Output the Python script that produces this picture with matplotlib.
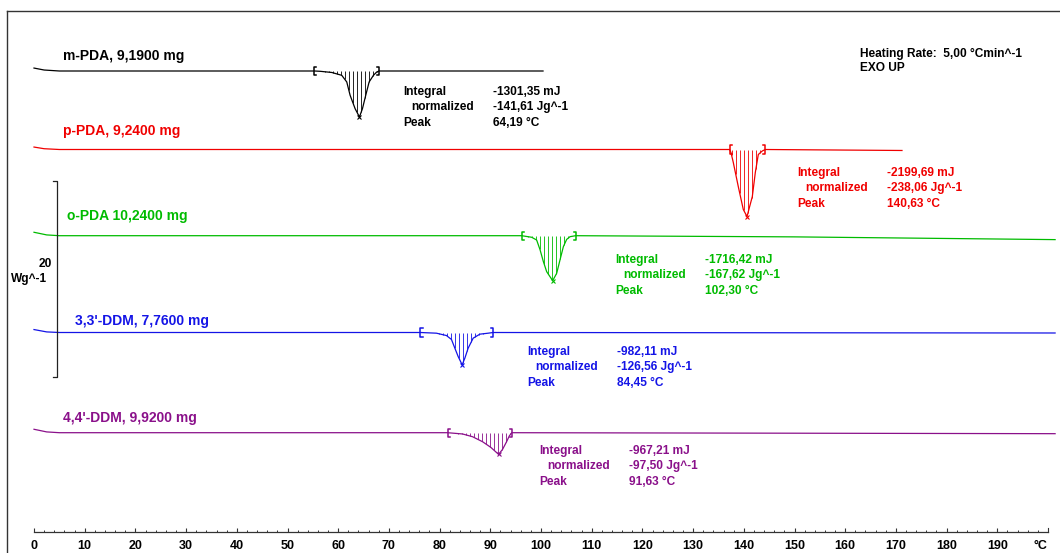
import numpy as np
import matplotlib.pyplot as plt
from matplotlib.lines import Line2D
from matplotlib.ticker import FixedLocator

plt.rcParams['font.family'] = ['Liberation Sans', 'DejaVu Sans']
plt.rcParams['font.weight'] = 'bold'

W, H = 1060, 553
PX_PER_C = 5.07      # horizontal scale, pixels per degree
PX_PER_WG = 9.8      # vertical scale, pixels per W/g

# sample labels and evaluation results
labels = ['m-PDA, 9,1900 mg', 'p-PDA, 9,2400 mg', 'o-PDA 10,2400 mg',
          "3,3'-DDM, 7,7600 mg", "4,4'-DDM, 9,9200 mg"]
integral_mj = [-1301.35, -2199.69, -1716.42, -982.11, -967.21]
normalized_jg = [-141.61, -238.06, -167.62, -126.56, -97.50]
peak_c = [64.19, 140.63, 102.30, 84.45, 91.63]
heating_rate = 5.00

# heat flow curves: temperature (°C) and heat flow (W/g, exo up)
t_mpda = [0, 2, 5, 55.31, 56.44, 58.73, 60.70, 61.69, 62.35, 63.34, 64.19,
          64.78, 65.43, 66.10, 66.95, 67.60, 68.07, 100.4]
hf_mpda = [0.3, 0.1, 0, 0, -0.03, -0.15, -0.44, -1.12, -2.48, -3.85, -4.69,
           -3.85, -2.48, -1.12, -0.44, -0.10, 0, 0]

t_ppda = [0, 2, 5, 137.20, 137.47, 137.93, 138.91, 139.90, 140.63, 141.68,
          142.27, 142.86, 143.65, 144.24, 171.2]
hf_ppda = [0.25, 0.08, 0, 0, -0.31, -1.33, -3.78, -6.12, -6.84, -4.80,
           -2.35, -0.51, -0.15, 0, -0.1]

t_oppda = [0, 2.5, 5, 96.19, 98.16, 99.14, 99.81, 100.47, 101.12, 102.30,
           103.09, 103.76, 104.41, 105.06, 105.73, 106.84, 150, 201.4]
hf_oppda = [0.35, 0.08, 0, 0, -0.16, -0.44, -1.43, -2.65, -3.67, -4.59,
            -3.84, -2.45, -1.12, -0.38, -0.10, 0, -0.12, -0.4]

t_33ddm = [0, 2.5, 5, 76.23, 79.38, 81.35, 82.34, 83.01, 83.66, 84.45,
           84.98, 85.63, 86.62, 87.94, 89.58, 90.56, 201.4]
hf_33ddm = [0.3, 0.06, 0, 0, -0.07, -0.31, -0.71, -1.60, -2.45, -3.30,
            -2.62, -1.60, -0.58, -0.17, -0.07, 0, -0.05]

t_44ddm = [0, 2.5, 5, 81.57, 84.53, 86.50, 88.47, 90.11, 91.63, 92.42,
           93.21, 93.74, 94.13, 94.25, 201.4]
hf_44ddm = [0.35, 0.08, 0, 0, -0.13, -0.41, -0.92, -1.50, -2.21, -1.70,
            -0.92, -0.34, -0.07, 0, -0.1]

# integration limits (°C)
limits = [(55.31, 68.07), (137.20, 144.24), (96.19, 106.84),
          (76.23, 90.56), (81.57, 94.25)]

curves = [(t_mpda, hf_mpda), (t_ppda, hf_ppda), (t_oppda, hf_oppda),
          (t_33ddm, hf_33ddm), (t_44ddm, hf_44ddm)]

# layout: curve baselines and text anchors in pixels
colors = ['#000000', '#f00000', '#00bb00', '#1414e6', '#8a108a']
base_px = [71, 149.5, 235.7, 332.5, 432.7]
label_xy = [(63, 56), (63, 131), (67, 216), (75, 321), (63, 418)]
info_xy = [(403, 92), (797, 173), (615, 260), (527, 352), (539, 451)]


def fmt(v):
    return f'{v:.2f}'.replace('.', ',')


def fpos(x, y):
    return x / W, 1 - y / H


fig = plt.figure(figsize=(W / 100, H / 100), dpi=100)
ax = fig.add_axes([0, 0, 1, 1])
ax.set_xlim(-34 / PX_PER_C, (W - 34) / PX_PER_C)
ax.set_ylim(-H / PX_PER_WG, 0)
ax.patch.set_visible(False)

for (t, hf), col, bpx, lim, pk in zip(curves, colors, base_px, limits, peak_c):
    off = -bpx / PX_PER_WG
    t = np.array(t)
    hf = np.array(hf)
    ax.plot(t, hf + off, color=col, lw=0.9)
    # hatched area between baseline and peak
    ts = np.arange(lim[0] + 0.4, lim[1], 0.8)
    ax.vlines(ts, np.interp(ts, t, hf) + off, off, color=col, lw=0.6)
    # integration limit brackets
    h = 0.42
    for x0, d in ((lim[0], 0.4), (lim[1], -0.4)):
        ax.plot([x0 + d, x0, x0, x0 + d], [off + h, off + h, off - h, off - h],
                color=col, lw=1.1)
    ax.plot([pk], [np.interp(pk, t, hf) + off], marker='x', ms=3.5, mew=0.8,
            color=col, ls='none')

fs = 8.6
for lab, col, (lx, ly) in zip(labels, colors, label_xy):
    fig.text(*fpos(lx, ly), lab, color=col, fontsize=10, va='center',
             ha='left')

for i, col in enumerate(colors):
    x0, y0 = info_xy[i]
    rows = [('Integral', 0, fmt(integral_mj[i]) + ' mJ'),
            ('normalized', 8, fmt(normalized_jg[i]) + ' Jg^-1'),
            ('Peak', 0, fmt(peak_c[i]) + ' °C')]
    for k, (name, ind, val) in enumerate(rows):
        y = y0 + k * 15.3
        fig.text(*fpos(x0 + ind, y), name, color=col, fontsize=fs, va='center')
        fig.text(*fpos(x0 + 90, y), val, color=col, fontsize=fs, va='center')

fig.text(*fpos(860, 54), f'Heating Rate:  {fmt(heating_rate)} °Cmin^-1',
         fontsize=fs, va='center')
fig.text(*fpos(860, 68), 'EXO UP', fontsize=fs, va='center')

# 20 W/g scale bar
sx = (56.7 - 34) / PX_PER_C
sx0 = (52.7 - 34) / PX_PER_C
top, bot = -180.5 / PX_PER_WG, -180.5 / PX_PER_WG - 20
ax.plot([sx0, sx, sx, sx0], [top, top, bot, bot], color='#222222', lw=0.9)
fig.text(*fpos(52, 264), '20', fontsize=fs, ha='right', va='center')
fig.text(*fpos(47, 279), 'Wg^-1', fontsize=fs, ha='right', va='center')

# temperature axis
for s in ('top', 'left', 'right'):
    ax.spines[s].set_visible(False)
ax.spines['bottom'].set_position(('data', -532 / PX_PER_WG))
ax.spines['bottom'].set_bounds(0, 200)
ax.spines['bottom'].set_color('#333333')
ax.spines['bottom'].set_linewidth(0.9)
ax.set_yticks([])
ax.set_xticks(np.arange(0, 200, 10))
ax.set_xticklabels([str(v) for v in range(0, 200, 10)])
ax.xaxis.set_minor_locator(FixedLocator(np.arange(0, 201, 2)))
ax.tick_params(axis='x', which='major', direction='in', length=3, width=0.8,
               pad=6, labelsize=9, color='#333333')
ax.tick_params(axis='x', which='minor', direction='in', length=1.8,
               width=0.7, color='#333333')
ax.plot([200, 200], [-532 / PX_PER_WG, -528 / PX_PER_WG], color='#333333',
        lw=0.8)
fig.text(*fpos(1047, 546), '°C', fontsize=9, ha='right', va='center')

# window frame
fig.add_artist(Line2D([7 / W, 7 / W], [0, 1 - 11 / H], color='#333333',
                      lw=1.0))
fig.add_artist(Line2D([7 / W, 1], [1 - 11 / H, 1 - 11 / H], color='#333333',
                      lw=1.0))

fig.savefig('out.png', dpi=100)
